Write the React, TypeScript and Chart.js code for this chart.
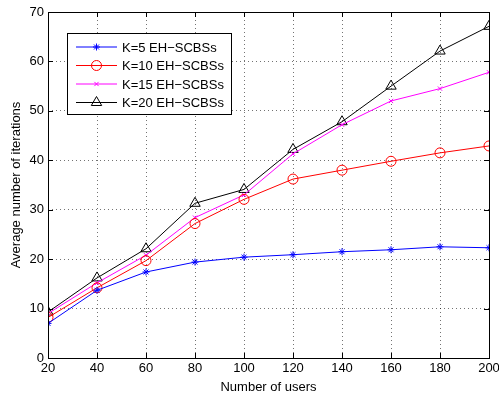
import React, { useEffect, useRef } from "react";
import { Chart, registerables } from "chart.js";
import { drawPoint } from "chart.js/helpers";

Chart.register(...registerables);

const users = [20, 40, 60, 80, 100, 120, 140, 160, 180, 200];
const k5 = [7.0, 13.7, 17.4, 19.4, 20.4, 20.9, 21.5, 21.9, 22.5, 22.3];
const k10 = [8.2, 14.2, 19.7, 27.2, 32.1, 36.2, 38.0, 39.8, 41.5, 42.9];
const k15 = [9.0, 15.2, 20.8, 28.4, 33.0, 41.3, 47.2, 52.0, 54.5, 57.8];
const k20 = [9.3, 16.2, 22.1, 31.3, 34.1, 42.2, 47.8, 55.0, 62.1, 67.1];
const xTicks = [20, 40, 60, 80, 100, 120, 140, 160, 180, 200];
const yTicks = [0, 10, 20, 30, 40, 50, 60, 70];
const seriesLabels = ["K=5 EH−SCBSs", "K=10 EH−SCBSs", "K=15 EH−SCBSs", "K=20 EH−SCBSs"];

const FONT = "'Liberation Sans', Arial, Helvetica, sans-serif";

const styles = [
  { color: "#0000ff", pointStyle: "star", radius: 3.5 },
  { color: "#ff0000", pointStyle: "circle", radius: 5 },
  { color: "#ff00ff", pointStyle: "crossRot", radius: 3 },
  { color: "#000000", pointStyle: "triangle", radius: 6 },
];

const framePlugin = {
  id: "frame",
  afterDraw(chart: any) {
    const { ctx, chartArea } = chart;
    const { left, right, top, bottom } = chartArea;
    const xs = chart.scales.x;
    const ys = chart.scales.y;
    ctx.save();
    ctx.strokeStyle = "#000";
    ctx.lineWidth = 1;
    ctx.strokeRect(left + 0.5, top + 0.5, right - left, bottom - top);
    ctx.beginPath();
    const L = 5;
    xTicks.forEach((v) => {
      const x = Math.round(xs.getPixelForValue(v)) + 0.5;
      ctx.moveTo(x, bottom);
      ctx.lineTo(x, bottom - L);
      ctx.moveTo(x, top);
      ctx.lineTo(x, top + L);
    });
    yTicks.forEach((v) => {
      const y = Math.round(ys.getPixelForValue(v)) + 0.5;
      ctx.moveTo(left, y);
      ctx.lineTo(left + L, y);
      ctx.moveTo(right, y);
      ctx.lineTo(right - L, y);
    });
    ctx.stroke();

    // legend
    const bx = 67.5, by = 33.5, bw = 164, bh = 81;
    ctx.fillStyle = "#fff";
    ctx.fillRect(bx, by, bw, bh);
    ctx.strokeRect(bx, by, bw, bh);
    const rows = [47, 65.5, 84, 102.5];
    ctx.font = `13px ${FONT}`;
    ctx.textBaseline = "middle";
    ctx.textAlign = "left";
    seriesLabels.forEach((lab, i) => {
      const s = styles[i];
      const y = rows[i];
      ctx.strokeStyle = s.color;
      ctx.lineWidth = 1;
      ctx.beginPath();
      ctx.moveTo(76, y);
      ctx.lineTo(117, y);
      ctx.stroke();
      ctx.fillStyle = "rgba(0,0,0,0)";
      drawPoint(ctx, { pointStyle: s.pointStyle, radius: s.radius, borderWidth: 1, rotation: 0 } as any, 96.5, y);
      ctx.fillStyle = "#000";
      ctx.fillText(lab, 122, y + 1);
    });
    ctx.restore();
  },
};

export default function App() {
  const ref = useRef<HTMLCanvasElement>(null);
  useEffect(() => {
    document.body.style.margin = "0";
    const data = [k5, k10, k15, k20];
    const chart = new Chart(ref.current!, {
      type: "line",
      data: {
        datasets: data.map((d, i) => ({
          label: seriesLabels[i],
          data: d.map((v, j) => ({ x: users[j], y: v })),
          borderColor: styles[i].color,
          backgroundColor: "rgba(0,0,0,0)",
          borderWidth: 1,
          pointStyle: styles[i].pointStyle as any,
          pointRadius: styles[i].radius,
          pointBorderColor: styles[i].color,
          pointBackgroundColor: "rgba(0,0,0,0)",
          pointBorderWidth: 1,
          tension: 0,
          fill: false,
        })),
      },
      options: {
        animation: false,
        responsive: false,
        devicePixelRatio: 1,
        layout: { padding: { top: 12, right: 10, left: 0, bottom: 0 } },
        plugins: { legend: { display: false }, tooltip: { enabled: false } },
        scales: {
          x: {
            type: "linear",
            min: 20,
            max: 200,
            afterFit: (s: any) => { s.height = 37; s.paddingRight = 0; s.paddingLeft = 0; },
            afterBuildTicks: (s: any) => { s.ticks = xTicks.map((v) => ({ value: v })); },
            ticks: { color: "#000", font: { family: FONT, size: 13 }, padding: 3, maxRotation: 0 },
            border: { display: false },
            grid: { color: "rgba(0,0,0,0.55)", drawTicks: false, borderDash: [1, 3] } as any,
            title: { display: true, text: "Number of users", color: "#000", font: { family: FONT, size: 13 }, padding: { top: 0, bottom: 0 } },
          },
          y: {
            min: 0,
            max: 70,
            afterFit: (s: any) => { s.width = 48; s.paddingTop = 0; s.paddingBottom = 0; },
            afterBuildTicks: (s: any) => { s.ticks = yTicks.map((v) => ({ value: v })); },
            ticks: { color: "#000", font: { family: FONT, size: 13 }, padding: 4 },
            border: { display: false },
            grid: { color: "rgba(0,0,0,0.55)", drawTicks: false, borderDash: [1, 3] } as any,
            title: { display: true, text: "Average number of iterations", color: "#000", font: { family: FONT, size: 13 }, padding: { top: 9, bottom: 0 } },
          },
        },
      },
      plugins: [framePlugin],
    });
    (chart.options.scales as any).x.border = { display: false, dash: [1, 3] };
    (chart.options.scales as any).y.border = { display: false, dash: [1, 3] };
    (chart.options.scales as any).x.grid.borderDash = [1, 3];
    (chart.options.scales as any).y.grid.borderDash = [1, 3];
    chart.update();
    return () => chart.destroy();
  }, []);
  return <canvas ref={ref} width={499} height={395} style={{ display: "block" }} />;
}
